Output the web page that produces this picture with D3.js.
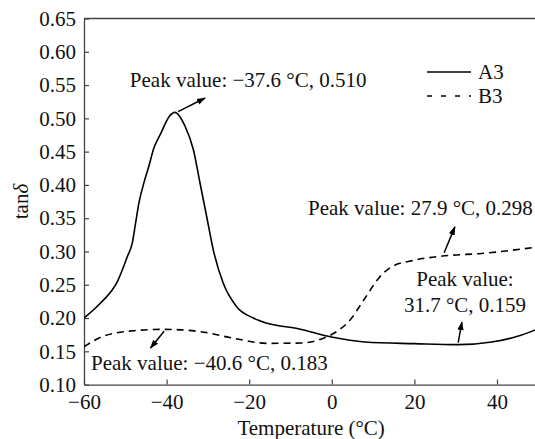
<!DOCTYPE html>
<html><head><meta charset="utf-8">
<script src="https://cdn.jsdelivr.net/npm/d3@7"></script>
<style>
body{margin:0;background:#fff;}
svg{display:block;font-family:"Liberation Serif","Times New Roman",serif;}
</style></head>
<body><svg id="chart" width="535" height="439"></svg>
<script>
// ---- data ----
const tempA3 = [-60,-56,-51.9,-49.5,-48.3,-47.5,-46.7,-45.5,-44.3,-43.1,-41.4,-39.4,-38,-35.5,-33.5,-31.9,-30.3,-28.7,-26.3,-23.1,-19,-15.6,-8.1,-0.1,8,20.1,30.6,38.7,45.2,50];
const tanA3  = [0.200,0.2225,0.255,0.2925,0.313,0.343,0.373,0.403,0.428,0.455,0.4775,0.5025,0.509,0.4877,0.4525,0.4025,0.3525,0.3025,0.2525,0.2175,0.200,0.192,0.184,0.1715,0.164,0.1615,0.160,0.164,0.173,0.184];
const tempB3 = [-60,-55.2,-47.9,-40.6,-31.8,-23.7,-15.6,-7.5,-1.9,1.5,4,8,11.3,14.5,20.1,27.4,36.3,50];
const tanB3  = [0.157,0.173,0.181,0.183,0.1795,0.1695,0.162,0.1625,0.170,0.181,0.194,0.2295,0.2595,0.277,0.287,0.2935,0.297,0.307];
const xTicks = [-60,-40,-20,0,20,40];
const yTicks = [0.10,0.15,0.20,0.25,0.30,0.35,0.40,0.45,0.50,0.55,0.60,0.65];
const seriesNames = ["A3","B3"];
const annotations = [
  {lines:["Peak value: \u221237.6 \u00b0C, 0.510"], tx:-48.9, ty:0.547, anchor:"start", from:[-37.2,0.510], to:[-30.7,0.5305]},
  {lines:["Peak value: 27.9 \u00b0C, 0.298"], tx:-5.76, ty:0.355, anchor:"start", from:[27.2,0.298], to:[29.8,0.337]},
  {lines:["Peak value:","31.7 \u00b0C, 0.159"], tx:32.25, ty:0.2485, anchor:"middle", from:[30.6,0.163], to:[31.5,0.194]},
  {lines:["Peak value: \u221240.6 \u00b0C, 0.183"], tx:-58.3, ty:0.1215, anchor:"start", from:[-40.6,0.180], to:[-43.9,0.155]}
];

// ---- layout ----
const svg = d3.select("#chart");
const x = d3.scaleLinear().domain([-60,50]).range([84,538.3]);
const y = d3.scaleLinear().domain([0.10,0.65]).range([384.6,18.5]);
const axisColor = "#444";
const fs = 21;

svg.append("defs").append("marker")
  .attr("id","arr").attr("viewBox","0 0 10 10").attr("refX",9).attr("refY",5)
  .attr("markerWidth",9).attr("markerHeight",9).attr("markerUnits","userSpaceOnUse")
  .attr("orient","auto")
  .append("path").attr("d","M0,1.5L10,5L0,8.5Z").attr("fill","#000");

// top line
svg.append("line").attr("x1",x(-60)).attr("x2",535).attr("y1",y(0.65)).attr("y2",y(0.65))
  .attr("stroke",axisColor).attr("stroke-width",1.3);

const gx = svg.append("g").attr("transform",`translate(0,${y(0.10)})`)
  .call(d3.axisBottom(x).tickValues(xTicks).tickSizeInner(-5).tickSizeOuter(0).tickPadding(9).tickFormat(d3.format("d")));
const gy = svg.append("g").attr("transform",`translate(${x(-60)},0)`)
  .call(d3.axisLeft(y).tickValues(yTicks).tickSizeInner(-5).tickSizeOuter(0).tickPadding(8).tickFormat(d3.format(".2f")));
[gx,gy].forEach(g=>{
  g.selectAll(".domain").attr("stroke",axisColor).attr("stroke-width",1.3);
  g.selectAll(".tick line").attr("stroke",axisColor).attr("stroke-width",1.2);
  g.selectAll("text").attr("font-size",fs).attr("font-family","Liberation Serif, Times New Roman, serif").attr("fill","#111");
});

// axis titles
svg.append("text").attr("x",(x(-60)+x(50))/2).attr("y",435).attr("text-anchor","middle")
  .attr("font-size",fs).attr("fill","#111").text("Temperature (\u00b0C)");
const yt = svg.append("text").attr("transform",`translate(28,${(y(0.10)+y(0.65))/2}) rotate(-90)`)
  .attr("text-anchor","middle").attr("font-size",fs).attr("fill","#111");
yt.append("tspan").text("tan");
yt.append("tspan").attr("font-style","italic").text("\u03b4");

// lines
const line = d3.line().x(d=>x(d[0])).y(d=>y(d[1])).curve(d3.curveMonotoneX);
const A = tempA3.map((t,i)=>[t,tanA3[i]]);
const B = tempB3.map((t,i)=>[t,tanB3[i]]);
svg.append("clipPath").attr("id","clip").append("rect")
  .attr("x",x(-60)).attr("y",y(0.65)).attr("width",535-x(-60)).attr("height",y(0.10)-y(0.65));
svg.append("path").datum(A).attr("d",line).attr("fill","none").attr("stroke","#000").attr("stroke-width",1.6).attr("clip-path","url(#clip)");
svg.append("path").datum(B).attr("d",line).attr("fill","none").attr("stroke","#000").attr("stroke-width",1.6)
  .attr("stroke-dasharray","7,5").attr("clip-path","url(#clip)");

// legend
const leg = svg.append("g");
seriesNames.forEach((n,i)=>{
  const ly = 72 + i*24;
  leg.append("line").attr("x1",427).attr("x2",471).attr("y1",ly).attr("y2",ly)
    .attr("stroke","#000").attr("stroke-width",1.6).attr("stroke-dasharray", i===0?null:"5,9");
  leg.append("text").attr("x",478).attr("y",ly+7).attr("font-size",fs).attr("fill","#111").text(n);
});

// annotations
annotations.forEach(a=>{
  const t = svg.append("text").attr("x",x(a.tx)).attr("y",y(a.ty)).attr("text-anchor",a.anchor)
    .attr("font-size",fs).attr("fill","#111");
  a.lines.forEach((l,i)=>t.append("tspan").attr("x",x(a.tx)).attr("dy",i===0?0:26).text(l));
  svg.append("line").attr("x1",x(a.from[0])).attr("y1",y(a.from[1])).attr("x2",x(a.to[0])).attr("y2",y(a.to[1]))
    .attr("stroke","#000").attr("stroke-width",1.5).attr("marker-end","url(#arr)");
});
</script></body></html>
